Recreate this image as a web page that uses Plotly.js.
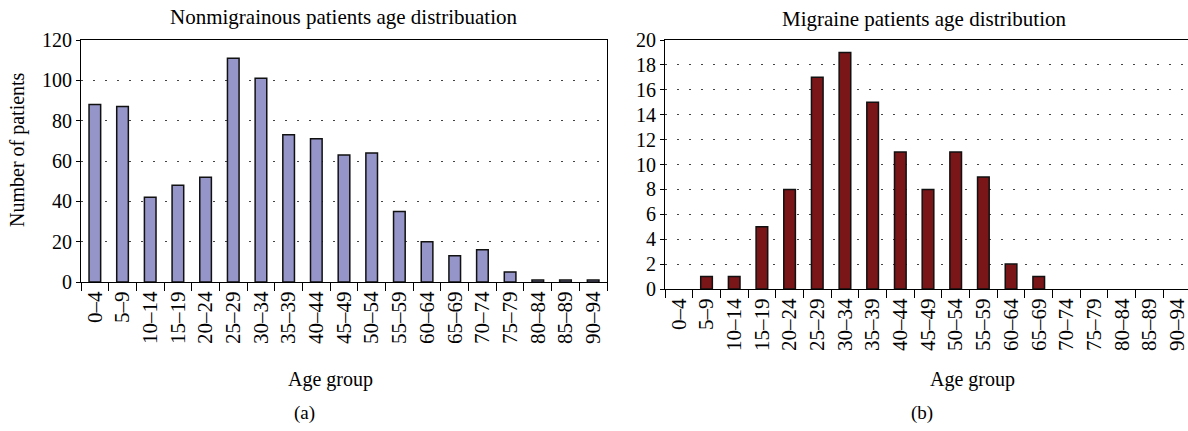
<!DOCTYPE html>
<html>
<head>
<meta charset="utf-8">
<script src="https://cdn.plot.ly/plotly-3.0.1.min.js"></script>
<style>
html, body { margin: 0; padding: 0; overflow: hidden; background: #fff; }
#chart { width: 1200px; height: 431px; }
</style>
</head>
<body>
<div id="chart"></div>
<script>
const ageGroups = ["0–4","5–9","10–14","15–19","20–24","25–29","30–34","35–39","40–44","45–49","50–54","55–59","60–64","65–69","70–74","75–79","80–84","85–89","90–94"];
const nonMigraine = [88, 87, 42, 48, 52, 111, 101, 73, 71, 63, 64, 35, 20, 13, 16, 5, 1, 1, 1];
const migraine = [0, 1, 1, 5, 8, 17, 19, 15, 11, 8, 11, 9, 2, 1, 0, 0, 0, 0, 0];

const leftTitle = "Nonmigrainous patients age distribuation";
const rightTitle = "Migraine patients age distribution";
const yTitle = "Number of patients";
const xTitle = "Age group";

const FONT = "Liberation Serif, Times New Roman, serif";
const W = 1200, H = 431;
const px = v => v / W;
const py = v => (H - v) / H;

const outline = vals => vals.map(v => (v > 0 ? 1.5 : 0));

const traces = [
  { type: "bar", x: ageGroups, y: nonMigraine, xaxis: "x", yaxis: "y",
    marker: { color: "#9595c9", line: { color: "#111", width: outline(nonMigraine) } }, hoverinfo: "x+y" },
  { type: "bar", x: ageGroups, y: migraine, xaxis: "x2", yaxis: "y2",
    marker: { color: "#7a1518", line: { color: "#111", width: outline(migraine) } }, hoverinfo: "x+y" }
];

const xCommon = {
  type: "category", tickson: "boundaries", ticks: "outside", ticklen: 8, tickcolor: "#000",
  tickangle: -90, showline: true, mirror: true, linecolor: "#000", linewidth: 1,
  showgrid: false, tickfont: { family: FONT, size: 21, color: "#000" }, fixedrange: true
};
const yCommon = {
  ticks: "outside", ticklen: 4, tickcolor: "#000", showline: true, mirror: true,
  linecolor: "#000", linewidth: 1, zeroline: false, showgrid: true,
  gridcolor: "#444", gridwidth: 1, griddash: "2px,10px",
  tickfont: { family: FONT, size: 20, color: "#000" }, fixedrange: true
};

const layout = {
  width: W, height: H,
  margin: { l: 0, r: 0, t: 0, b: 0 },
  paper_bgcolor: "#fff", plot_bgcolor: "#fff",
  showlegend: false, bargap: 0.58,
  font: { family: FONT, color: "#000" },
  xaxis: Object.assign({}, xCommon, { domain: [px(81), px(607)], anchor: "y" }),
  yaxis: Object.assign({}, yCommon, { domain: [py(282), py(40)], range: [0, 120], dtick: 20, anchor: "x" }),
  xaxis2: Object.assign({}, xCommon, { domain: [px(665), px(1191)], anchor: "y2" }),
  yaxis2: Object.assign({}, yCommon, { domain: [py(289), py(40)], range: [0, 20], dtick: 2, anchor: "x2" }),
  annotations: [
    { text: leftTitle, x: px(344), y: py(17), xref: "paper", yref: "paper", showarrow: false,
      xanchor: "center", yanchor: "middle", font: { family: FONT, size: 21 } },
    { text: rightTitle, x: px(924), y: py(19), xref: "paper", yref: "paper", showarrow: false,
      xanchor: "center", yanchor: "middle", font: { family: FONT, size: 21 } },
    { text: yTitle, x: px(18), y: py(150), xref: "paper", yref: "paper", showarrow: false,
      textangle: -90, xanchor: "center", yanchor: "middle", font: { family: FONT, size: 20 } },
    { text: xTitle, x: px(330), y: py(379), xref: "paper", yref: "paper", showarrow: false,
      xanchor: "center", yanchor: "middle", font: { family: FONT, size: 20 } },
    { text: xTitle, x: px(972), y: py(379), xref: "paper", yref: "paper", showarrow: false,
      xanchor: "center", yanchor: "middle", font: { family: FONT, size: 20 } },
    { text: "(a)", x: px(304), y: py(413), xref: "paper", yref: "paper", showarrow: false,
      xanchor: "center", yanchor: "middle", font: { family: FONT, size: 19 } },
    { text: "(b)", x: px(922), y: py(413), xref: "paper", yref: "paper", showarrow: false,
      xanchor: "center", yanchor: "middle", font: { family: FONT, size: 19 } }
  ]
};

Plotly.newPlot("chart", traces, layout, { displayModeBar: false, staticPlot: true });
</script>
</body>
</html>
